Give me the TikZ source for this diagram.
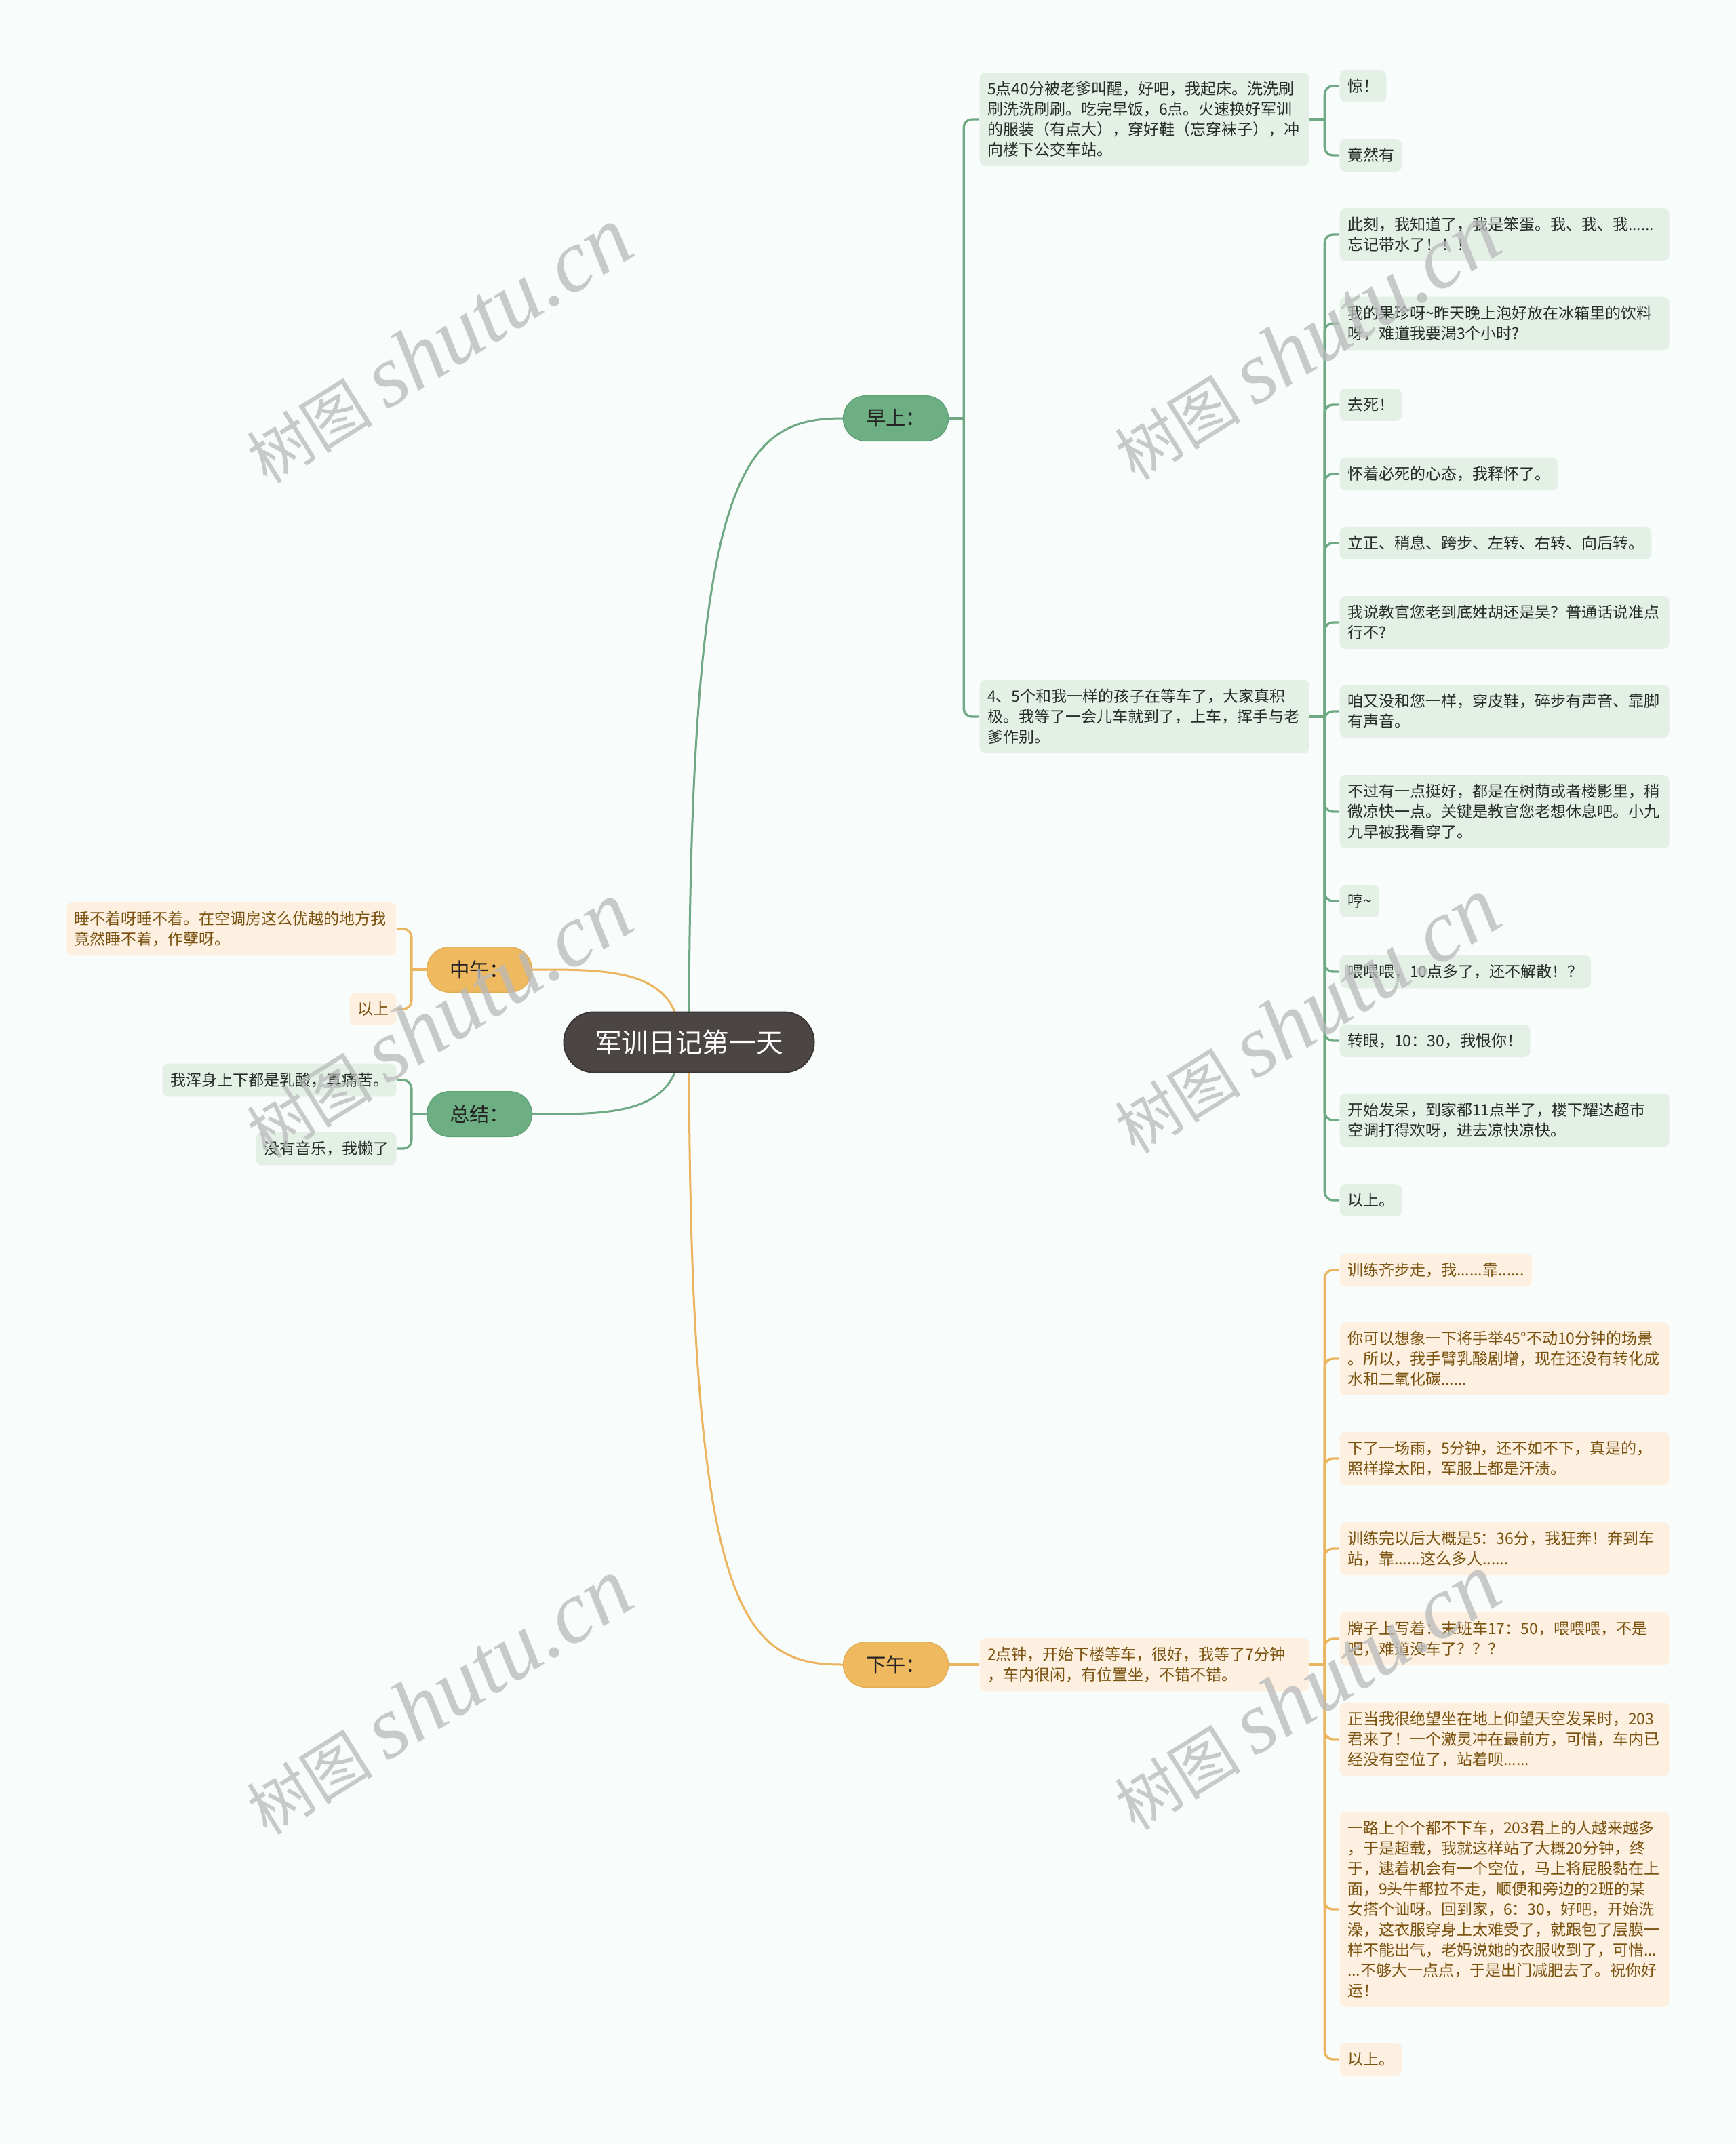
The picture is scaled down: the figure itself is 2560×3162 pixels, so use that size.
\documentclass[tikz,border=0pt]{standalone}
\usepackage{fontspec}
\setmainfont{Noto Sans CJK SC}
\newfontfamily\wmlatin{Liberation Serif}
\usetikzlibrary{calc}
\definecolor{bgc}{HTML}{F8FDFC}
\definecolor{rootc}{HTML}{4B4544}
\definecolor{rootb}{HTML}{3A3434}
\definecolor{gmain}{HTML}{6DAE83}
\definecolor{gmaind}{HTML}{62A078}
\definecolor{omain}{HTML}{EFB960}
\definecolor{omaind}{HTML}{E3AD55}
\definecolor{gline}{HTML}{6FA983}
\definecolor{oline}{HTML}{EAB55E}
\definecolor{gleafc}{HTML}{E4EFE6}
\definecolor{oleafc}{HTML}{FDF0E0}
\definecolor{gtext}{HTML}{262D28}
\definecolor{otext}{HTML}{7A5210}
\definecolor{tdark}{HTML}{222222}
\definecolor{wmc}{HTML}{B8BABA}
\pgfdeclarelayer{bglayer}
\pgfsetlayers{bglayer,main}
\begin{document}
\begin{tikzpicture}[x=0.3pt,y=-0.3pt,
  rootbox/.style={fill=rootc, draw=rootb, line width=0.6pt, rounded corners=13.3pt,
    minimum width=110.7pt, minimum height=26.7pt, inner sep=0pt, text=white,
    font=\fontsize{11.9}{14}\selectfont},
  topicg/.style={fill=gmain, draw=gmaind, line width=0.4pt, rounded corners=10pt,
    minimum width=46.5pt, minimum height=20pt, inner sep=0pt, text=tdark,
    font=\fontsize{8.8}{10}\selectfont},
  topico/.style={topicg, fill=omain, draw=omaind},
  leafbase/.style={rounded corners=2.6pt, inner xsep=3.4pt, inner ysep=4pt,
    align=left, font=\fontsize{6.9}{9}\selectfont},
  gleaf/.style={leafbase, fill=gleafc, text=gtext},
  oleaf/.style={leafbase, fill=oleafc, text=otext},
  wide/.style={text width=139pt},
  gcurve/.style={draw=gline, line width=0.9pt},
  ocurve/.style={draw=oline, line width=0.9pt},
  gbr/.style={draw=gline, line width=1pt, rounded corners=3.6pt},
  obr/.style={draw=oline, line width=1pt, rounded corners=3.6pt},
  wm/.style={text=wmc, opacity=0.75, rotate=32, inner sep=0pt, font=\fontsize{28}{28}\selectfont}
]
\begin{pgfonlayer}{bglayer}
\fill[bgc] (0,0) rectangle (2560,3162);
\end{pgfonlayer}
\useasboundingbox (0,0) rectangle (2560,3162);

% root and main topics
\node[rootbox] (root) at (1016,1537) {军训日记第一天};
\node[topicg] (zao) at (1321,617) {早上：};
\node[topico] (zhong) at (707,1430) {中午：};
\node[topicg] (zong) at (707,1643) {总结：};
\node[topico] (xia) at (1321,2455) {下午：};

% morning
\node[gleaf, wide, anchor=west] (a1) at (1444,176) {5点40分被老爹叫醒，好吧，我起床。洗洗刷\\刷洗洗刷刷。吃完早饭，6点。火速换好军训\\的服装（有点大），穿好鞋（忘穿袜子），冲\\向楼下公交车站。};
\node[gleaf, anchor=west] (a1a) at (1975,127) {惊！};
\node[gleaf, anchor=west] (a1b) at (1975,229) {竟然有};

\node[gleaf, wide, anchor=west] (a2) at (1444,1057) {4、5个和我一样的孩子在等车了，大家真积\\极。我等了一会儿车就到了，上车，挥手与老\\爹作别。};
\node[gleaf, wide, anchor=west] (m1) at (1975,346) {此刻，我知道了，我是笨蛋。我、我、我......\\忘记带水了！！！};
\node[gleaf, wide, anchor=west] (m2) at (1975,477) {我的果珍呀\textasciitilde 昨天晚上泡好放在冰箱里的饮料\\呀，难道我要渴3个小时?};
\node[gleaf, anchor=west] (m3) at (1975,597) {去死！};
\node[gleaf, anchor=west] (m4) at (1975,699) {怀着必死的心态，我释怀了。};
\node[gleaf, anchor=west] (m5) at (1975,801) {立正、稍息、跨步、左转、右转、向后转。};
\node[gleaf, wide, anchor=west] (m6) at (1975,918) {我说教官您老到底姓胡还是吴？普通话说准点\\行不?};
\node[gleaf, wide, anchor=west] (m7) at (1975,1049) {咱又没和您一样，穿皮鞋，碎步有声音、靠脚\\有声音。};
\node[gleaf, wide, anchor=west] (m8) at (1975,1197) {不过有一点挺好，都是在树荫或者楼影里，稍\\微凉快一点。关键是教官您老想休息吧。小九\\九早被我看穿了。};
\node[gleaf, anchor=west] (m9) at (1975,1329) {哼\textasciitilde};
\node[gleaf, anchor=west] (m10) at (1975,1433) {喂喂喂，10点多了，还不解散！？};
\node[gleaf, anchor=west] (m11) at (1975,1535) {转眼，10：30，我恨你！};
\node[gleaf, wide, anchor=west] (m12) at (1975,1652) {开始发呆，到家都11点半了，楼下耀达超市\\空调打得欢呀，进去凉快凉快。};
\node[gleaf, anchor=west] (m13) at (1975,1770) {以上。};

% noon
\node[oleaf, wide, anchor=east] (n1) at (585,1370) {睡不着呀睡不着。在空调房这么优越的地方我\\竟然睡不着，作孽呀。};
\node[oleaf, anchor=east] (n2) at (585,1488) {以上};

% summary
\node[gleaf, anchor=east] (s1) at (585,1593) {我浑身上下都是乳酸，真痛苦。};
\node[gleaf, anchor=east] (s2) at (585,1694) {没有音乐，我懒了};

% afternoon
\node[oleaf, wide, anchor=west] (b1) at (1444,2455) {2点钟，开始下楼等车，很好，我等了7分钟\\，车内很闲，有位置坐，不错不错。};
\node[oleaf, anchor=west] (p1) at (1975,1873) {训练齐步走，我......靠......};
\node[oleaf, wide, anchor=west] (p2) at (1975,2004) {你可以想象一下将手举45°不动10分钟的场景\\。所以，我手臂乳酸剧增，现在还没有转化成\\水和二氧化碳......};
\node[oleaf, wide, anchor=west] (p3) at (1975,2151) {下了一场雨，5分钟，还不如不下，真是的，\\照样撑太阳，军服上都是汗渍。};
\node[oleaf, wide, anchor=west] (p4) at (1975,2284) {训练完以后大概是5：36分，我狂奔！奔到车\\站，靠......这么多人......};
\node[oleaf, wide, anchor=west] (p5) at (1975,2417) {牌子上写着：末班车17：50，喂喂喂，不是\\吧，难道没车了？？？};
\node[oleaf, wide, anchor=west] (p6) at (1975,2565) {正当我很绝望坐在地上仰望天空发呆时，203\\君来了！一个激灵冲在最前方，可惜，车内已\\经没有空位了，站着呗......};
\node[oleaf, wide, anchor=west] (p7) at (1975,2816) {一路上个个都不下车，203君上的人越来越多\\，于是超载，我就这样站了大概20分钟，终\\于，逮着机会有一个空位，马上将屁股黏在上\\面，9头牛都拉不走，顺便和旁边的2班的某\\女搭个讪呀。回到家，6：30，好吧，开始洗\\澡，这衣服穿身上太难受了，就跟包了层膜一\\样不能出气，老妈说她的衣服收到了，可惜...\\...不够大一点点，于是出门减肥去了。祝你好\\运！};
\node[oleaf, anchor=west] (p8) at (1975,3037) {以上。};

% connectors
\begin{pgfonlayer}{bglayer}
\draw[gcurve] (root.center) .. controls +(0,-840) and +(-150,0) .. (zao.west);
\draw[ocurve] (root.center) .. controls +(0,840) and +(-150,0) .. (xia.west);
\coordinate (rl) at ($(root.center)+(-13,0)$);
\draw[ocurve] (rl) .. controls +(0,-110) and +(110,0) .. (zhong.east);
\draw[gcurve] (rl) .. controls +(0,110) and +(110,0) .. (zong.east);

\coordinate (bz) at ($(zao.east)+(22,0)$);
\draw[gbr] (zao.east) -- (bz);
\foreach \c in {a1,a2} \draw[gbr] (bz) |- (\c.west);

\coordinate (ba1) at ($(a1.east)+(22,0)$);
\draw[gbr] (a1.east) -- (ba1);
\foreach \c in {a1a,a1b} \draw[gbr] (ba1) |- (\c.west);

\coordinate (ba2) at ($(a2.east)+(22,0)$);
\draw[gbr] (a2.east) -- (ba2);
\foreach \c in {m1,m2,m3,m4,m5,m6,m7,m8,m9,m10,m11,m12,m13} \draw[gbr] (ba2) |- (\c.west);

\coordinate (bzh) at ($(zhong.west)+(-22,0)$);
\draw[obr] (zhong.west) -- (bzh);
\foreach \c in {n1,n2} \draw[obr] (bzh) |- (\c.east);

\coordinate (bzo) at ($(zong.west)+(-22,0)$);
\draw[gbr] (zong.west) -- (bzo);
\foreach \c in {s1,s2} \draw[gbr] (bzo) |- (\c.east);

\coordinate (bx) at ($(xia.east)+(22,0)$);
\draw[obr] (xia.east) -- (bx) -- (b1.west);

\coordinate (bb1) at ($(b1.east)+(22,0)$);
\draw[obr] (b1.east) -- (bb1);
\foreach \c in {p1,p2,p3,p4,p5,p6,p7,p8} \draw[obr] (bb1) |- (\c.west);
\end{pgfonlayer}

% watermarks
\foreach \wx/\wy [count=\i] in {646/510,1926/505,646/1505,1926/1498,646/2503,1926/2496}
  \node[wm] (wm\i) at (\wx,\wy) {树图 {\wmlatin\itshape\fontsize{39}{39}\selectfont shutu.cn}};
\end{tikzpicture}
\end{document}
